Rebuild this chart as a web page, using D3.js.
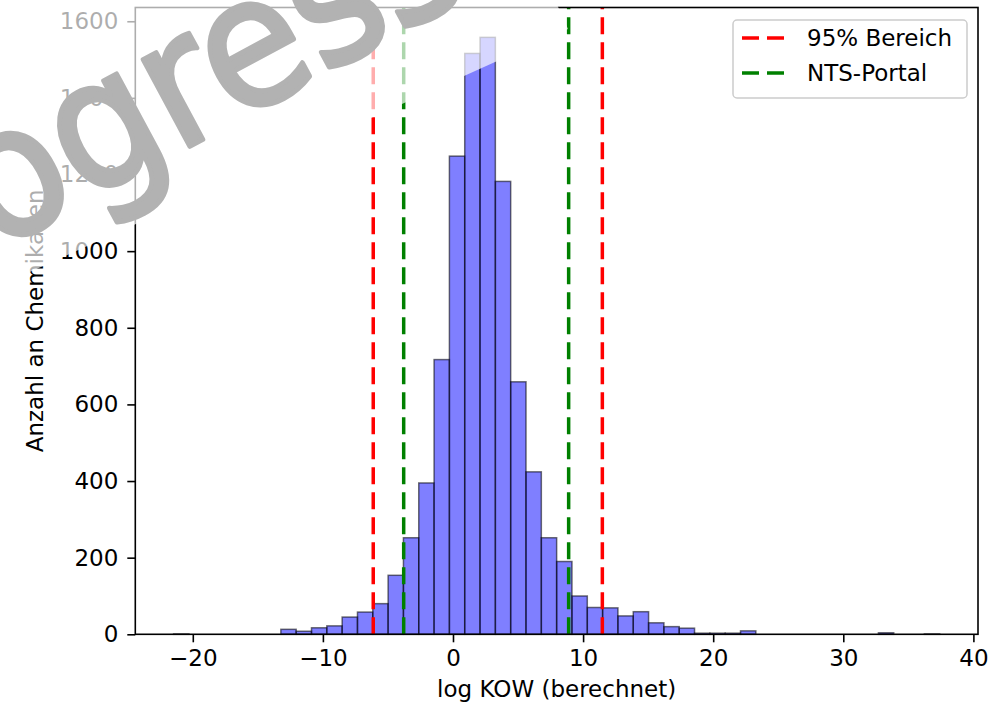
<!DOCTYPE html>
<html>
<head>
<meta charset="utf-8">
<script src="https://cdn.jsdelivr.net/npm/d3@7"></script>
<style>
	body { margin: 0; background: #fff; }
	svg { display: block; font-family: "DejaVu Sans", sans-serif; }
</style>
</head>
<body>
<svg id="chart" width="1001" height="706"></svg>
<script>
// histogram: 50 equal bins starting at binStart
var binStart = -21.475;
var binWidth = 1.1777;
var counts = [1, 0, 0, 0, 0, 0, 0,
	13, 8, 17, 22, 45, 58, 80, 154, 252, 395,
	717, 1248, 1516, 1558, 1182, 659, 424, 252, 190, 100,
	70, 69, 48, 59, 30, 20, 16, 3, 3, 3, 9,
	0, 0, 0, 0, 0, 0, 0, 0, 4, 0, 0, 1];

// vertical reference lines
var rangeLines = [-6.13, 11.48];
var portalLines = [-3.79, 8.89];
var legendLabels = ["95% Bereich", "NTS-Portal"];

var xTicks = [-20, -10, 0, 10, 20, 30, 40];
var yTicks = [0, 200, 400, 600, 800, 1000, 1200, 1400, 1600];

var svg = d3.select("#chart");
var plotLeft = 135.3, plotRight = 978, plotTop = 7.5, plotBottom = 634.3;
var fontSize = 23;

// matplotlib style 5% margins around the bins
var span = counts.length * binWidth;
var x = d3.scaleLinear()
	.domain([binStart - 0.05 * span, binStart + 1.05 * span])
	.range([plotLeft, plotRight]);
var y = d3.scaleLinear()
	.domain([0, 1.05 * d3.max(counts)])
	.range([plotBottom, plotTop]);

var bins = counts.map(function(c, i) {
	return { x0: binStart + i * binWidth, x1: binStart + (i + 1) * binWidth, count: c };
});

// bars
svg.append("g")
	.attr("class", "bars")
	.selectAll("rect")
	.data(bins)
	.enter()
	.append("rect")
	.attr("x", function(d) { return x(d.x0); })
	.attr("width", function(d) { return x(d.x1) - x(d.x0); })
	.attr("y", function(d) { return y(d.count); })
	.attr("height", function(d) { return y(0) - y(d.count); })
	.attr("fill", "rgba(0,0,255,0.5)")
	.attr("stroke", "rgba(0,0,0,0.55)")
	.attr("stroke-width", 1.5);

// dashed lines
function vlines(values, color) {
	svg.append("g")
		.selectAll("line")
		.data(values)
		.enter()
		.append("line")
		.attr("x1", function(d) { return x(d); })
		.attr("x2", function(d) { return x(d); })
		.attr("y1", plotBottom)
		.attr("y2", plotTop)
		.attr("stroke", color)
		.attr("stroke-width", 3.5)
		.attr("stroke-dasharray", "17,8");
}
vlines(rangeLines, "#ff0000");
vlines(portalLines, "#008000");

// spines
svg.append("rect")
	.attr("x", plotLeft)
	.attr("y", plotTop)
	.attr("width", plotRight - plotLeft)
	.attr("height", plotBottom - plotTop)
	.attr("fill", "none")
	.attr("stroke", "#000")
	.attr("stroke-width", 1.6);

// axes
var minus = function(d) { return String(d).replace("-", "\u2212"); };

var gx = svg.append("g")
	.attr("transform", "translate(0," + plotBottom + ")")
	.call(d3.axisBottom(x).tickValues(xTicks).tickFormat(minus).tickSize(8).tickPadding(7));
var gy = svg.append("g")
	.attr("transform", "translate(" + plotLeft + ",0)")
	.call(d3.axisLeft(y).tickValues(yTicks).tickFormat(d3.format("d")).tickSize(8).tickPadding(9));

[gx, gy].forEach(function(g) {
	g.select(".domain").remove();
	g.selectAll(".tick line").attr("stroke", "#000").attr("stroke-width", 1.6);
	g.selectAll(".tick text")
		.attr("fill", "#000")
		.style("font-family", "DejaVu Sans")
		.style("font-size", fontSize + "px");
});

// axis labels
svg.append("text")
	.attr("x", (plotLeft + plotRight) / 2)
	.attr("y", 697)
	.attr("text-anchor", "middle")
	.style("font-size", fontSize + "px")
	.text("log KOW (berechnet)");

svg.append("text")
	.attr("transform", "translate(43," + ((plotTop + plotBottom) / 2) + ") rotate(-90)")
	.attr("text-anchor", "middle")
	.style("font-size", fontSize + "px")
	.text("Anzahl an Chemikalien");

// legend
var legend = svg.append("g").attr("transform", "translate(733,20)");
legend.append("rect")
	.attr("width", 234)
	.attr("height", 78)
	.attr("rx", 4)
	.attr("fill", "rgba(255,255,255,0.8)")
	.attr("stroke", "#cccccc")
	.attr("stroke-width", 1.5);

var items = legend.selectAll("g.item")
	.data(legendLabels)
	.enter()
	.append("g")
	.attr("class", "item")
	.attr("transform", function(d, i) { return "translate(0," + (18 + i * 35) + ")"; });
items.append("line")
	.attr("x1", 9)
	.attr("x2", 52)
	.attr("stroke", function(d, i) { return i === 0 ? "#ff0000" : "#008000"; })
	.attr("stroke-width", 3.5)
	.attr("stroke-dasharray", "17,8");
items.append("text")
	.attr("x", 74)
	.attr("y", 8)
	.style("font-size", fontSize + "px")
	.text(function(d) { return d; });

// watermark: lightened band plus big grey text
var mark = svg.append("g").attr("transform", "translate(373,117) rotate(-24.3)");
mark.append("rect")
	.attr("x", -1200)
	.attr("y", -1000)
	.attr("width", 1414)
	.attr("height", 1000)
	.attr("fill", "#fff")
	.attr("fill-opacity", 0.68);

svg.append("text")
	.attr("transform", "translate(-10,12) rotate(-4,85,135) translate(-176.7,312.2) rotate(-24.3) translate(30,0) scale(0.92,1)")
	.style("font-size", "180px")
	.attr("fill", "#b2b2b2")
	.attr("stroke", "#b2b2b2")
	.attr("stroke-width", 5)
	.attr("stroke-linejoin", "round")
	.text("Progress");
</script>
</body>
</html>
